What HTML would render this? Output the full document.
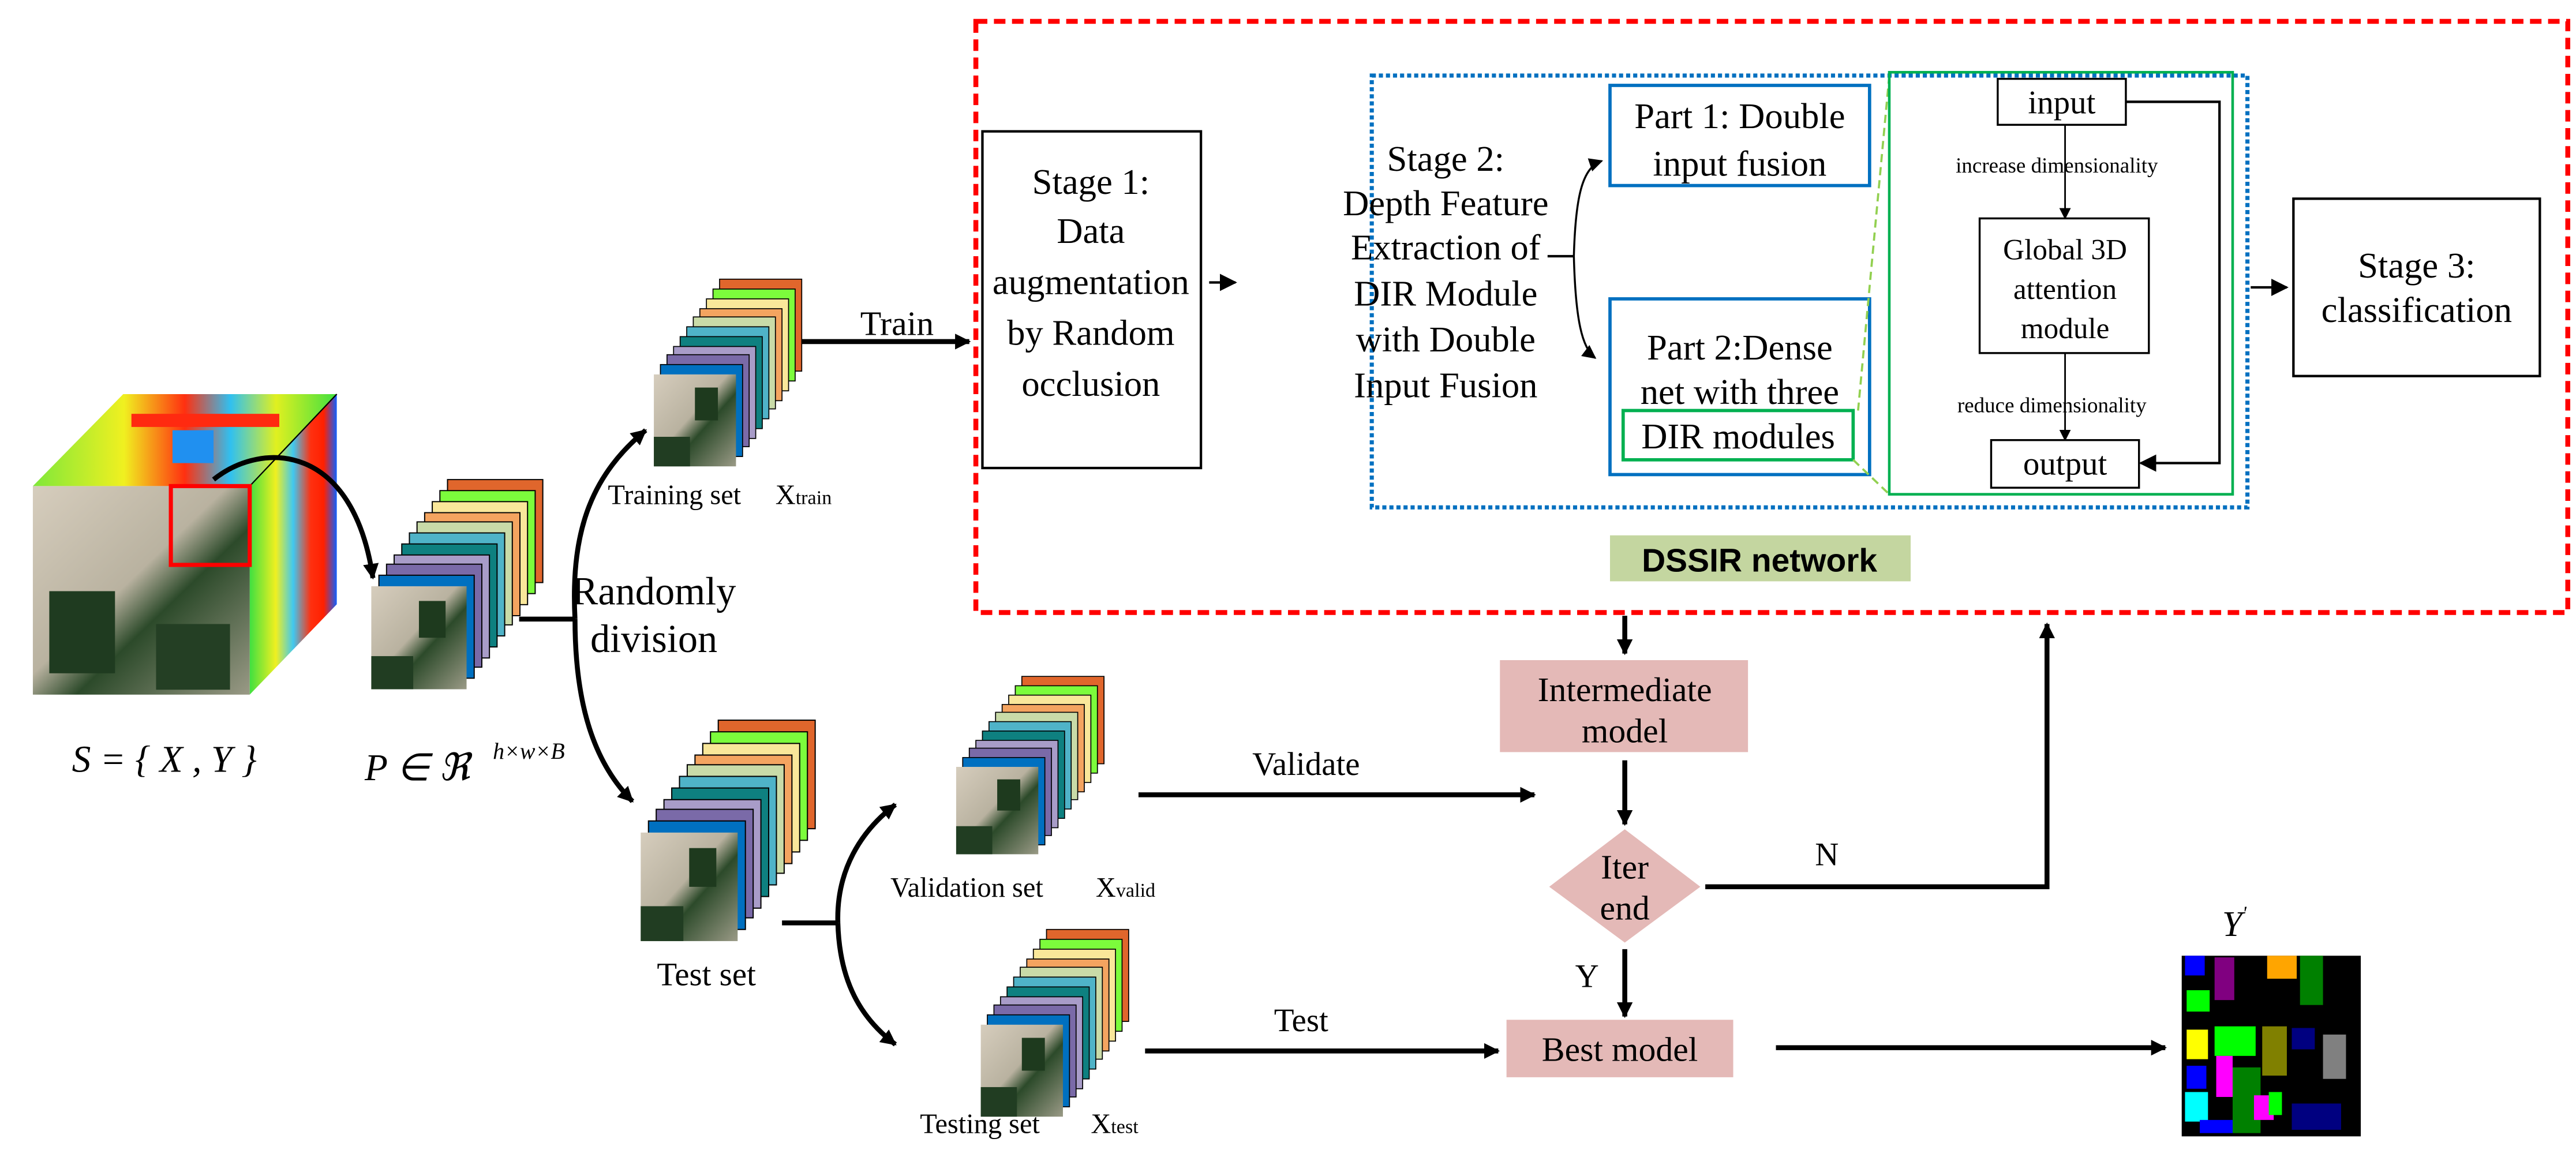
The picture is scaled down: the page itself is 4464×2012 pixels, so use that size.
<!DOCTYPE html>
<html><head><meta charset="utf-8"><style>html,body{margin:0;padding:0;background:#fff}svg{display:block}</style></head><body>
<svg width="4464" height="2012" viewBox="0 0 1568 707" preserveAspectRatio="none" xmlns="http://www.w3.org/2000/svg" font-family="'Liberation Serif', serif">
<defs>
<marker id="ah" viewBox="0 0 10 10" refX="9" refY="5" markerWidth="3.2" markerHeight="3.2" orient="auto"><path d="M0,0 L10,5 L0,10 z" fill="#000"/></marker>
<marker id="ahs" viewBox="0 0 10 10" refX="9" refY="5" markerWidth="7" markerHeight="7" orient="auto"><path d="M0,0 L10,5 L0,10 z" fill="#000"/></marker>
<linearGradient id="land" x1="0" y1="0" x2="1" y2="1"><stop offset="0" stop-color="#d6cdbd"/><stop offset="0.45" stop-color="#b9b2a0"/><stop offset="0.6" stop-color="#2c4a2a"/><stop offset="1" stop-color="#9a9a86"/></linearGradient>
<linearGradient id="heatT" x1="0" y1="0" x2="1" y2="0"><stop offset="0" stop-color="#7fe83a"/><stop offset="0.3" stop-color="#f0f020"/><stop offset="0.5" stop-color="#ff3010"/><stop offset="0.65" stop-color="#30c0f0"/><stop offset="0.8" stop-color="#e0f020"/><stop offset="1" stop-color="#40e040"/></linearGradient>
<linearGradient id="heatR" x1="0" y1="0" x2="1" y2="0"><stop offset="0" stop-color="#40e040"/><stop offset="0.3" stop-color="#f0f020"/><stop offset="0.5" stop-color="#40c8f0"/><stop offset="0.7" stop-color="#ff3010"/><stop offset="0.85" stop-color="#ff2000"/><stop offset="1" stop-color="#1060ff"/></linearGradient>
<g id="stk">
<rect x="40" y="-58" width="50" height="56" fill="#e0662c" stroke="#000" stroke-width="0.6"/>
<rect x="36" y="-52" width="50" height="56" fill="#7cfc3c" stroke="#000" stroke-width="0.6"/>
<rect x="32" y="-46" width="50" height="56" fill="#f9e79a" stroke="#000" stroke-width="0.6"/>
<rect x="28" y="-40" width="50" height="56" fill="#f4a460" stroke="#000" stroke-width="0.6"/>
<rect x="24" y="-35" width="50" height="56" fill="#c9dba8" stroke="#000" stroke-width="0.6"/>
<rect x="20" y="-29" width="50" height="56" fill="#4fb3c8" stroke="#000" stroke-width="0.6"/>
<rect x="16" y="-23" width="50" height="56" fill="#0e8080" stroke="#000" stroke-width="0.6"/>
<rect x="12" y="-17" width="50" height="56" fill="#a89cc8" stroke="#000" stroke-width="0.6"/>
<rect x="8" y="-12" width="50" height="56" fill="#7a6aa8" stroke="#000" stroke-width="0.6"/>
<rect x="4" y="-6" width="50" height="56" fill="#0070c0" stroke="#000" stroke-width="0.6"/>
<rect x="0" y="0" width="50" height="56" fill="url(#land)"/>
<rect x="25" y="8" width="14" height="20" fill="#1e3a1e"/>
<rect x="0" y="38" width="22" height="18" fill="#213d22"/>
</g>
</defs>

<polygon points="20,296 75,240 205,240 152,296" fill="url(#heatT)"/>
<rect x="80" y="252" width="90" height="8" fill="#ff2a10"/>
<rect x="105" y="262" width="25" height="20" fill="#2090f0"/>
<polygon points="152,296 205,240 205,368 152,423" fill="url(#heatR)"/>
<line x1="152" y1="296" x2="205" y2="240" stroke="#000" stroke-width="0.8"/>
<rect x="20" y="296" width="132" height="127" fill="url(#land)"/>
<rect x="30" y="360" width="40" height="50" fill="#1f3b20"/>
<rect x="95" y="380" width="45" height="40" fill="#243f24"/>
<rect x="104" y="296" width="48" height="48" fill="none" stroke="#ff0000" stroke-width="2.5"/>
<path d="M130,292 C160,268 215,270 227,352" fill="none" stroke="#000" stroke-width="3" marker-end="url(#ah)"/>

<use href="#stk" transform="translate(226,357) scale(1.16,1.12)"/>
<use href="#stk" transform="translate(398,228) scale(1.0)"/>
<use href="#stk" transform="translate(390,507) scale(1.18,1.18)"/>
<use href="#stk" transform="translate(582,467) scale(1.0,0.95)"/>
<use href="#stk" transform="translate(597,624) scale(1.0,1.0)"/>

<text x="100" y="470" font-size="23" font-style="italic" text-anchor="middle">S = { X , Y }</text>
<text x="222" y="475" font-size="23" font-style="italic">P ∈ ℜ</text>
<text x="300" y="462" font-size="14" font-style="italic">h×w×B</text>

<line x1="316" y1="377" x2="350" y2="377" stroke="#000" stroke-width="3"/>
<path d="M350,377 C347,320 362,288 393,262" fill="none" stroke="#000" stroke-width="3" marker-end="url(#ah)"/>
<path d="M350,377 C350,430 362,465 385,488" fill="none" stroke="#000" stroke-width="3" marker-end="url(#ah)"/>
<text x="398" y="368" font-size="24" text-anchor="middle">Randomly</text>
<text x="398" y="397" font-size="24" text-anchor="middle">division</text>

<text x="370" y="307" font-size="17">Training set</text>
<text x="472" y="307" font-size="17">X<tspan font-size="12">train</tspan></text>
<text x="430" y="600" font-size="20" text-anchor="middle">Test set</text>
<text x="542" y="546" font-size="17">Validation set</text>
<text x="667" y="546" font-size="17">X<tspan font-size="12">valid</tspan></text>
<text x="560" y="690" font-size="17">Testing set</text>
<text x="664" y="690" font-size="17">X<tspan font-size="12">test</tspan></text>

<line x1="476" y1="562" x2="510" y2="562" stroke="#000" stroke-width="3"/>
<path d="M510,562 C509,530 524,506 545,490" fill="none" stroke="#000" stroke-width="3" marker-end="url(#ah)"/>
<path d="M510,562 C511,598 524,620 545,636" fill="none" stroke="#000" stroke-width="3" marker-end="url(#ah)"/>

<line x1="488" y1="208" x2="590" y2="208" stroke="#000" stroke-width="3" marker-end="url(#ah)"/>
<text x="546" y="204" font-size="21" text-anchor="middle">Train</text>

<rect x="594" y="13" width="969" height="360" fill="none" stroke="#ff0000" stroke-width="3" stroke-dasharray="7,4"/>
<rect x="835" y="46" width="533" height="263" fill="none" stroke="#0070c0" stroke-width="2.5" stroke-dasharray="2.5,1.8"/>

<rect x="598" y="80" width="133" height="205" fill="#fff" stroke="#000" stroke-width="1.5"/>
<g font-size="22" text-anchor="middle">
<text x="664" y="118">Stage 1:</text>
<text x="664" y="148">Data</text>
<text x="664" y="179">augmentation</text>
<text x="664" y="210">by Random</text>
<text x="664" y="241">occlusion</text>
</g>
<line x1="736" y1="172" x2="752" y2="172" stroke="#000" stroke-width="1.5" marker-end="url(#ahs)"/>

<g font-size="22" text-anchor="middle">
<text x="880" y="104">Stage 2:</text>
<text x="880" y="131">Depth Feature</text>
<text x="880" y="158">Extraction of</text>
<text x="880" y="186">DIR Module</text>
<text x="880" y="214">with Double</text>
<text x="880" y="242">Input Fusion</text>
</g>
<line x1="942" y1="156" x2="958" y2="156" stroke="#000" stroke-width="1.5"/>
<path d="M958,156 C959,120 963,102 975,98" fill="none" stroke="#000" stroke-width="1.2" marker-end="url(#ahs)"/>
<path d="M958,156 C959,195 963,212 971,218" fill="none" stroke="#000" stroke-width="1.2" marker-end="url(#ahs)"/>

<rect x="980" y="52" width="158" height="61" fill="none" stroke="#0070c0" stroke-width="2"/>
<text x="1059" y="78" font-size="22" text-anchor="middle">Part 1: Double</text>
<text x="1059" y="107" font-size="22" text-anchor="middle">input fusion</text>
<rect x="980" y="182" width="158" height="107" fill="none" stroke="#0070c0" stroke-width="2"/>
<text x="1059" y="219" font-size="22" text-anchor="middle">Part 2:Dense</text>
<text x="1059" y="246" font-size="22" text-anchor="middle">net with three</text>
<rect x="988" y="250" width="140" height="30" fill="none" stroke="#00b050" stroke-width="2"/>
<text x="1058" y="273" font-size="22" text-anchor="middle">DIR modules</text>
<line x1="1150" y1="46" x2="1131" y2="250" stroke="#92d050" stroke-width="1.3" stroke-dasharray="5,3"/>
<line x1="1128" y1="280" x2="1150" y2="301" stroke="#92d050" stroke-width="1.3" stroke-dasharray="5,3"/>

<rect x="1150" y="44" width="209" height="257" fill="none" stroke="#00b050" stroke-width="1.6"/>
<rect x="1216" y="48" width="78" height="28" fill="#fff" stroke="#000" stroke-width="1.2"/>
<text x="1255" y="69" font-size="20" text-anchor="middle">input</text>
<line x1="1257" y1="76" x2="1257" y2="133" stroke="#000" stroke-width="1" marker-end="url(#ahs)"/>
<rect x="1205" y="133" width="103" height="82" fill="#fff" stroke="#000" stroke-width="1.2"/>
<text x="1257" y="158" font-size="18" text-anchor="middle">Global 3D</text>
<text x="1257" y="182" font-size="18" text-anchor="middle">attention</text>
<text x="1257" y="206" font-size="18" text-anchor="middle">module</text>
<line x1="1257" y1="215" x2="1257" y2="268" stroke="#000" stroke-width="1" marker-end="url(#ahs)"/>
<rect x="1212" y="268" width="90" height="29" fill="#fff" stroke="#000" stroke-width="1.2"/>
<text x="1257" y="289" font-size="20" text-anchor="middle">output</text>
<polyline points="1294,62 1351,62 1351,282 1303,282" fill="none" stroke="#000" stroke-width="1.5" marker-end="url(#ahs)"/>
<text x="1252" y="105" font-size="13" text-anchor="middle">increase dimensionality</text>
<text x="1249" y="251" font-size="13" text-anchor="middle">reduce dimensionality</text>

<line x1="1370" y1="175" x2="1392" y2="175" stroke="#000" stroke-width="1.5" marker-end="url(#ahs)"/>
<rect x="1396" y="121" width="150" height="108" fill="#fff" stroke="#000" stroke-width="1.5"/>
<text x="1471" y="169" font-size="22" text-anchor="middle">Stage 3:</text>
<text x="1471" y="196" font-size="22" text-anchor="middle">classification</text>

<rect x="980" y="326" width="183" height="28" fill="#c4d6a0"/>
<text x="1071" y="348" font-size="20" font-weight="bold" font-family="'Liberation Sans', sans-serif" text-anchor="middle">DSSIR network</text>

<line x1="989" y1="375" x2="989" y2="398" stroke="#000" stroke-width="3" marker-end="url(#ah)"/>
<rect x="913" y="402" width="151" height="56" fill="#e4b9b7"/>
<text x="989" y="427" font-size="21" text-anchor="middle">Intermediate</text>
<text x="989" y="452" font-size="21" text-anchor="middle">model</text>
<line x1="989" y1="463" x2="989" y2="502" stroke="#000" stroke-width="3" marker-end="url(#ah)"/>
<polygon points="989,505 1035,540 989,574 943,540" fill="#e4b9b7"/>
<text x="989" y="535" font-size="21" text-anchor="middle">Iter</text>
<text x="989" y="560" font-size="21" text-anchor="middle">end</text>
<polyline points="1038,540 1246,540 1246,380" fill="none" stroke="#000" stroke-width="3" marker-end="url(#ah)"/>
<text x="1112" y="527" font-size="20" text-anchor="middle">N</text>
<line x1="989" y1="578" x2="989" y2="619" stroke="#000" stroke-width="3" marker-end="url(#ah)"/>
<text x="966" y="601" font-size="20" text-anchor="middle">Y</text>
<rect x="917" y="621" width="138" height="35" fill="#e4b9b7"/>
<text x="986" y="646" font-size="21" text-anchor="middle">Best model</text>
<line x1="1081" y1="638" x2="1318" y2="638" stroke="#000" stroke-width="3" marker-end="url(#ah)"/>

<line x1="693" y1="484" x2="934" y2="484" stroke="#000" stroke-width="3" marker-end="url(#ah)"/>
<text x="795" y="472" font-size="20" text-anchor="middle">Validate</text>
<line x1="697" y1="640" x2="912" y2="640" stroke="#000" stroke-width="3" marker-end="url(#ah)"/>
<text x="792" y="628" font-size="20" text-anchor="middle">Test</text>

<text x="1360" y="570" font-size="22" font-style="italic" text-anchor="middle">Y<tspan dy="-10" font-size="12">'</tspan></text>
<rect x="1328" y="582" width="109" height="110" fill="#000"/>
<rect x="1330" y="582" width="12" height="12" fill="#0000ff"/>
<rect x="1348" y="583" width="12" height="26" fill="#800080"/>
<rect x="1380" y="582" width="18" height="14" fill="#ffa500"/>
<rect x="1400" y="582" width="14" height="30" fill="#008000"/>
<rect x="1331" y="603" width="14" height="13" fill="#00ff00"/>
<rect x="1331" y="627" width="13" height="18" fill="#ffff00"/>
<rect x="1348" y="625" width="25" height="18" fill="#00ff00"/>
<rect x="1377" y="625" width="15" height="30" fill="#808000"/>
<rect x="1395" y="626" width="14" height="13" fill="#000080"/>
<rect x="1414" y="630" width="14" height="27" fill="#808080"/>
<rect x="1331" y="649" width="12" height="14" fill="#0000ff"/>
<rect x="1349" y="643" width="10" height="25" fill="#ff00ff"/>
<rect x="1359" y="650" width="17" height="40" fill="#008000"/>
<rect x="1330" y="665" width="14" height="18" fill="#00ffff"/>
<rect x="1372" y="667" width="12" height="15" fill="#ff00ff"/>
<rect x="1381" y="665" width="8" height="14" fill="#00ff00"/>
<rect x="1395" y="672" width="30" height="16" fill="#000080"/>
<rect x="1339" y="682" width="20" height="8" fill="#0000ff"/>
</svg>
</body></html>
